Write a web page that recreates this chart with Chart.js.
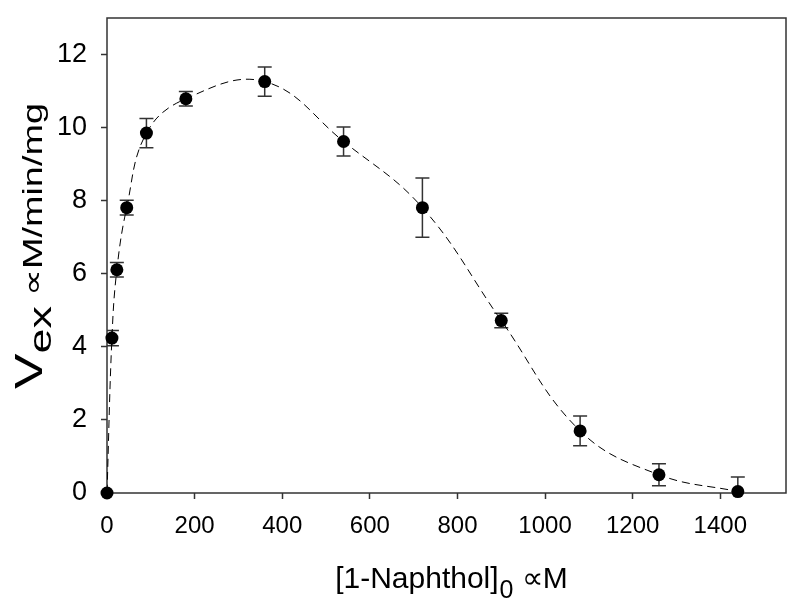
<!DOCTYPE html>
<html lang="en">
<head>
    <meta charset="UTF-8">
    <title>1-Naphthol rate</title>
    <script src="https://cdn.jsdelivr.net/npm/chart.js@4.4.0/dist/chart.umd.min.js"></script>
</head>
<style>
    body {
        margin: 0;
        background-color: #ffffff;
    }

    .container {
        width: 800px;
        height: 614px;
    }
</style>
<body>
    <div class="container">
        <canvas id="rateChart" width="800" height="614"></canvas>
    </div>

    <script>
        // values
        const concentration = [0, 11.25, 22.5, 45, 90, 180, 360, 540, 720, 900, 1080, 1260, 1440];
        const rate = [0, 4.24, 6.11, 7.81, 9.85, 10.79, 11.26, 9.62, 7.81, 4.72, 1.70, 0.50, 0.04];
        const rateErr = [0, 0.21, 0.20, 0.20, 0.40, 0.20, 0.40, 0.40, 0.81, 0.20, 0.41, 0.30, 0.40];
        const xTicks = [0, 200, 400, 600, 800, 1000, 1200, 1400];
        const yTicks = [0, 2, 4, 6, 8, 10, 12];

        const font = 'Liberation Sans, Arial, sans-serif';

        const points = concentration.map((x, i) => ({ x: x, y: rate[i] }));

        // error bars, drawn under the markers
        const errorBars = {
            id: 'errorBars',
            beforeDatasetsDraw(chart) {
                const ctx = chart.ctx;
                const xs = chart.scales.x;
                const ys = chart.scales.y;
                const area = chart.chartArea;
                ctx.save();
                ctx.beginPath();
                ctx.rect(area.left, area.top, area.right - area.left, area.bottom - area.top);
                ctx.clip();
                ctx.strokeStyle = '#333333';
                ctx.lineWidth = 1.5;
                concentration.forEach((x, i) => {
                    if (!rateErr[i]) return;
                    const px = xs.getPixelForValue(x);
                    const top = ys.getPixelForValue(rate[i] + rateErr[i]);
                    const bot = ys.getPixelForValue(rate[i] - rateErr[i]);
                    ctx.beginPath();
                    ctx.moveTo(px, top);
                    ctx.lineTo(px, bot);
                    ctx.moveTo(px - 7, top);
                    ctx.lineTo(px + 7, top);
                    ctx.moveTo(px - 7, bot);
                    ctx.lineTo(px + 7, bot);
                    ctx.stroke();
                });
                ctx.restore();
            }
        };

        // frame and axis titles with subscripts
        const frameAndTitles = {
            id: 'frameAndTitles',
            beforeDatasetsDraw(chart) {
                const ctx = chart.ctx;
                const area = chart.chartArea;
                ctx.save();
                ctx.strokeStyle = '#333333';
                ctx.lineWidth = 1.5;
                ctx.strokeRect(area.left, area.top, area.right - area.left, area.bottom - area.top);
                ctx.restore();
            },
            afterDraw(chart) {
                const ctx = chart.ctx;
                ctx.save();
                ctx.fillStyle = '#000000';
                ctx.textBaseline = 'alphabetic';

                // x title: [1-Naphthol]0 ∝M
                const main = '30px ' + font;
                const sub = '25px ' + font;
                ctx.font = main;
                const w1 = ctx.measureText('[1-Naphthol]').width;
                const w3 = ctx.measureText(' \u221DM').width;
                ctx.font = sub;
                const w2 = ctx.measureText('0').width;
                let x = 451 - (w1 + w2 + w3) / 2;
                const base = 588;
                ctx.font = main;
                ctx.fillText('[1-Naphthol]', x, base);
                x += w1;
                ctx.font = sub;
                ctx.fillText('0', x + 1, base + 10);
                x += w2 + 1;
                ctx.font = main;
                ctx.fillText(' \u221DM', x, base);

                // y title: Vex ∝M/min/mg, stretched along its length like the original
                ctx.translate(42, 246);
                ctx.rotate(-Math.PI / 2);
                ctx.scale(1.4, 1);
                const big = '38px ' + font;
                const ysub = '32px ' + font;
                const ymain = '27px ' + font;
                ctx.font = big;
                const v1 = ctx.measureText('V').width;
                ctx.font = ysub;
                const v2 = ctx.measureText('ex').width;
                ctx.font = ymain;
                const v3 = ctx.measureText(' \u221DM/min/mg').width;
                let y = -(v1 + v2 + v3) / 2;
                ctx.font = big;
                ctx.fillText('V', y, 0);
                y += v1;
                ctx.font = ysub;
                ctx.fillText('ex', y, 9);
                y += v2;
                ctx.font = ymain;
                ctx.fillText(' \u221DM/min/mg', y, 0);
                ctx.restore();
            }
        };

        const ctx = document.getElementById('rateChart').getContext('2d');
        const chart = new Chart(ctx, {
            type: 'scatter',
            data: {
                datasets: [{
                    label: 'fit',
                    data: points,
                    showLine: true,
                    tension: 0.4,
                    borderColor: '#000000',
                    borderWidth: 1,
                    borderDash: [8, 5],
                    pointRadius: 0,
                    fill: false
                }, {
                    label: 'Vex',
                    data: points,
                    showLine: false,
                    clip: 10,
                    pointRadius: 6.5,
                    pointBackgroundColor: '#000000',
                    pointBorderColor: '#000000',
                    pointBorderWidth: 0
                }]
            },
            options: {
                responsive: false,
                animation: false,
                events: [],
                layout: {
                    padding: { left: 0, top: 18, right: 14, bottom: 0 }
                },
                plugins: {
                    legend: { display: false },
                    tooltip: { enabled: false }
                },
                scales: {
                    x: {
                        type: 'linear',
                        min: 0,
                        max: 1550,
                        afterBuildTicks: scale => { scale.ticks = xTicks.map(v => ({ value: v })); },
                        afterFit: scale => {
                            scale.height = 121;
                            scale.paddingLeft = 0;
                            scale.paddingRight = 0;
                        },
                        ticks: {
                            font: { family: font, size: 24 },
                            color: '#000000',
                            padding: 13,
                            maxRotation: 0,
                            callback: v => String(v)
                        },
                        grid: {
                            drawOnChartArea: false,
                            drawTicks: true,
                            tickLength: 6,
                            tickWidth: 1.5,
                            tickColor: '#333333'
                        },
                        border: { display: false }
                    },
                    y: {
                        type: 'linear',
                        min: 0,
                        max: 13,
                        afterBuildTicks: scale => { scale.ticks = yTicks.map(v => ({ value: v })); },
                        afterFit: scale => {
                            scale.width = 107;
                            scale.paddingTop = 0;
                            scale.paddingBottom = 0;
                        },
                        ticks: {
                            font: { family: font, size: 27 },
                            color: '#000000',
                            padding: 14,
                            callback: v => String(v)
                        },
                        grid: {
                            drawOnChartArea: false,
                            drawTicks: true,
                            tickLength: 6,
                            tickWidth: 1.5,
                            tickColor: '#333333'
                        },
                        border: { display: false }
                    }
                }
            },
            plugins: [errorBars, frameAndTitles]
        });
    </script>
</body>
</html>
